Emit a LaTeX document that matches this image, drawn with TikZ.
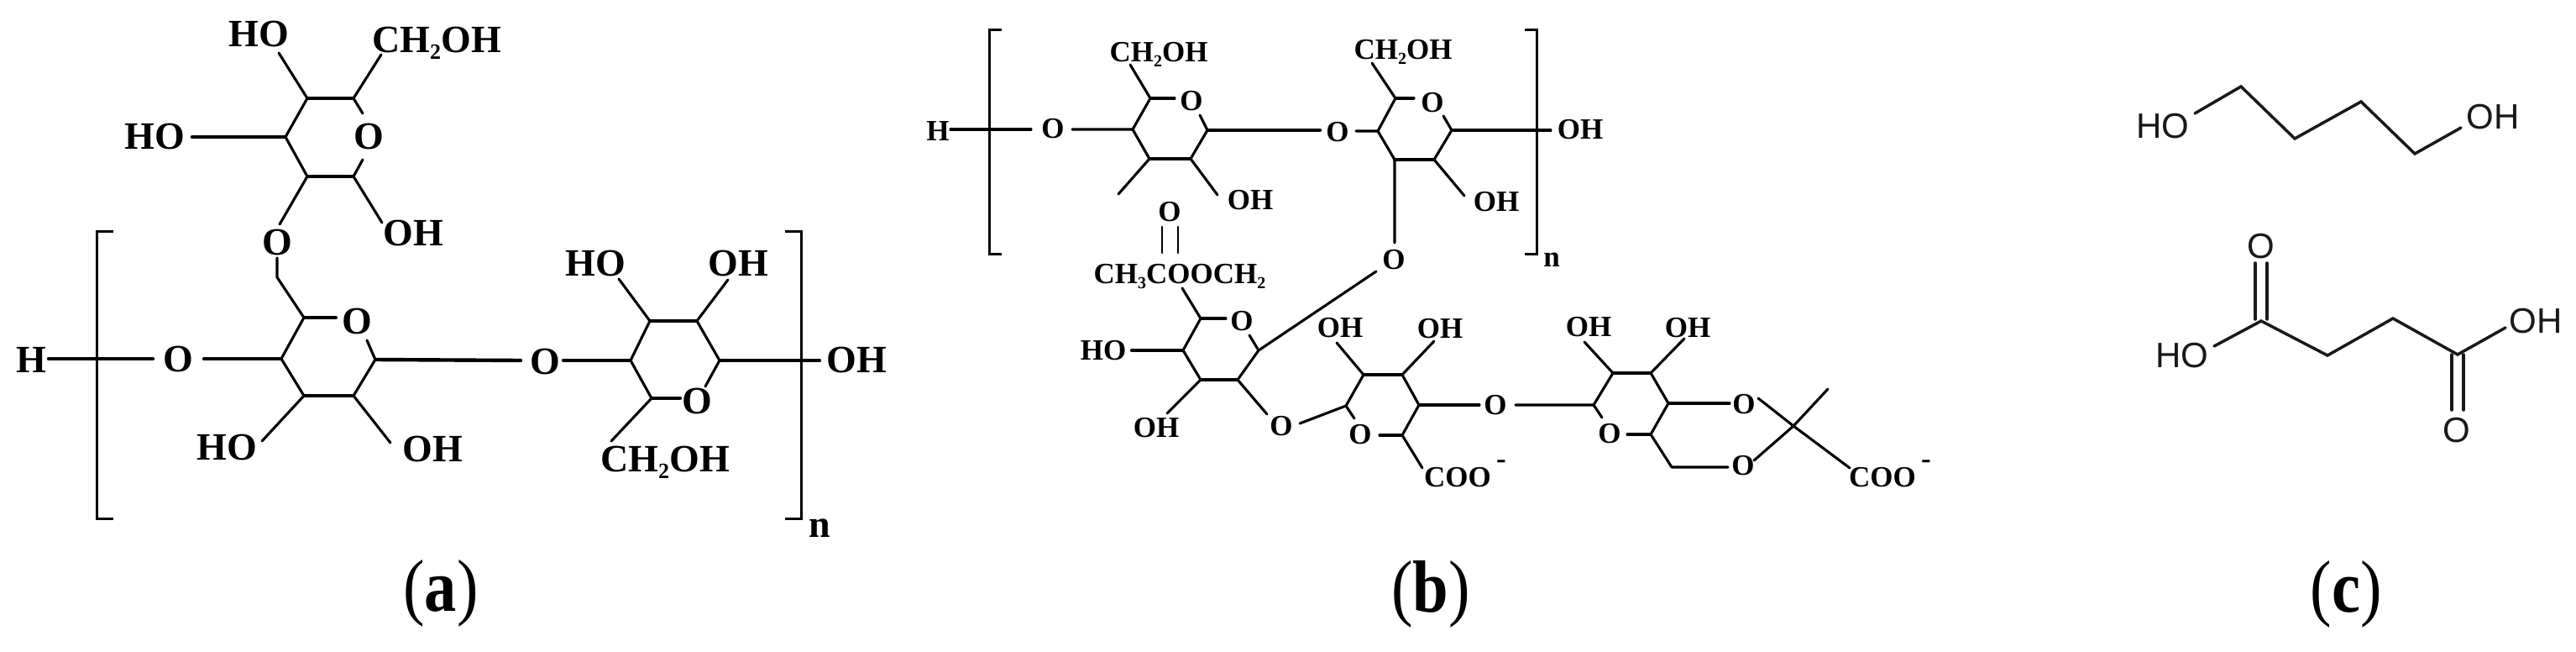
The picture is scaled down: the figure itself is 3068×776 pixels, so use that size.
\documentclass[tikz,border=0pt]{standalone}
\usepackage{fontspec}
\usepackage{graphicx}
\setmainfont{Liberation Serif}
\newfontfamily\chemsans{Liberation Sans}
\newcommand{\lsub}[3]{\raisebox{-#2}{\fontsize{#1}{#1}\selectfont #3}}
\tikzset{
  bond/.style={line width=3.1pt,line cap=round,line join=round,black},
  bondw/.style={line width=4.4pt,line cap=round,line join=round,black},
  brk/.style={line width=3pt,line cap=butt,line join=miter,black},
  thin bond/.style={line width=2.8pt,line cap=round,line join=round,black},
  skeleton/.style={line width=3.5pt,line cap=round,line join=miter,black!90},
  labA/.style={inner sep=0pt,font=\fontsize{46}{48}\selectfont\bfseries,text height=30pt,text depth=0pt},
  labB/.style={inner sep=0pt,font=\fontsize{35}{37}\selectfont\bfseries,text height=23pt,text depth=0pt},
  labC/.style={inner sep=0pt,font=\fontsize{42}{44}\selectfont\chemsans,text height=30pt,text depth=0pt,black!90},
  panelcap/.style={inner sep=0pt,font=\fontsize{88}{90}\selectfont,text height=60pt,text depth=18pt},
}
\begin{document}
\begin{tikzpicture}[x=1pt,y=-1pt]
\useasboundingbox (0,0) rectangle (3068,776);
% ---------- coordinates of panel (a)
\foreach \n/\x/\y in {
 A1/366/117,A2/421/117,A3/340/163,A4/366/210,A5/421/210,
 eCH/454/65,eHOt/332/63,eHOl/229/163,eOa/432/135,eOb/432/190,eOHa/455/265,eLa/333/267,eLb/330/307,La/330/330,
 B1/362/378,eB1/400/378,eB2/437/405,B3/447/428,B4/335/427,B5/362/471,B6/421/471,
 eHa/58/427,eHb/182/427,eOc/243/427,eHOb/312/525,eOHb/465/527,eOd/620/429,eOe/671/429,
 C1/751/429,C2/774/382,C3/830/382,C4/857/429,C5/776/474,eC5/810/474,eC4/840/460,
 eHOc/737/332,eOHc/867/333,eCHb/728/525,eOHr/976/429,
 brA1/135/275,brA2/115/275,brA3/115/617,brA4/135/617,
 brA5/935/275,brA6/954/275,brA7/954/617,brA8/935/617}
 {\coordinate (\n) at (\x,\y);}
% ---------- coordinates of panel (b)
\foreach \n/\x/\y in {
 brB1/1193/36,brB2/1178/36,brB3/1178/302,brB4/1193/302,
 brB5/1816/36,brB6/1830/36,brB7/1830/302,brB8/1816/302,
 eH/1132/154,eO1/1228/154,eO2/1277/154,
 D1/1349/154,D2/1370/117,eD2/1399/117,eD3/1429/137,D4/1438/155,D5/1418/189,D6/1369/189,
 eCH1/1346/77,stub/1332/231,eOH1/1450/232,eO3/1572/155,eO4/1615/156,
 E1/1641/156,E2/1662/117,eE2/1684/117,eE3/1719/138,E4/1729/155,E5/1708/190,E6/1661/190,
 eCH2/1634/75,eOH2/1744/233,eO5/1661/289,eOH3/1847/155,
 dbA1/1384/270,dbA2/1384/301,dbB1/1403/270,dbB2/1403/301,
 eAc/1408/343,F1/1430/379,eF1/1460/379,eF2/1488/399,F3/1499/417,F4/1474/452,F5/1430/452,F6/1409/417,
 eO6/1639/323,eHO1/1348/417,eOH4/1390/492,eO7/1509/493,eO8/1548/504,
 G1/1603/483,G2/1624/446,G3/1670/446,G4/1690/482,G5/1670/518,eG5/1643/518,eG1/1613/498,
 eOH5/1592/408,eOH6/1708/406,eCOOa/1694/557,eO9/1762/482,eO10/1805/482,
 I1/1898/482,I2/1921/444,I3/1966/444,I4/1987/480,I5/1966/517,eI5/1938/517,eI1/1908/497,
 eOH7/1887/407,eOH8/2006/403,eO11/2060/480,I6/1991/556,eO12/2058/556,
 J0/2136/507,eJa/2094/474,eJb/2203/557,eJc/2177/463,eJd/2089/548}
 {\coordinate (\n) at (\x,\y);}
% ---------- coordinates of panel (c)
\foreach \n/\x/\y in {
 K1/2614/135,K2/2669/103,K3/2733/165,K4/2812/121,K5/2876/183,K6/2931/152,
 M1/2637/412,M2/2693/382,M3/2772/423,M4/2850/379,M5/2927/422,M6/2984/390,
 dcA1/2686/313,dcA2/2686/380,dcB1/2700/313,dcB2/2700/380,
 dcC1/2920/422,dcC2/2920/488,dcD1/2934/422,dcD2/2934/488}
 {\coordinate (\n) at (\x,\y);}
% ---------- labels of panel (a)
\node[labA] (aHO1) at (308,41) {HO};
\node[labA] (aCH1) at (520,48) {CH\lsub{26}{8pt}{2}OH};
\node[labA] (aHO2) at (184,162) {HO};
\node[labA] (aOr1) at (439,162) {O};
\node[labA] (aOH1) at (492,277) {OH};
\node[labA] (aOl) at (330,288) {O};
\node[labA] (aOH2) at (879,313) {OH};
\node[labA] (aHO3) at (709,313) {HO};
\node[labA] (aOr2) at (425,382) {O};
\node[labA] (aH) at (37,428) {H};
\node[labA] (aO1) at (212,427) {O};
\node[labA] (aO2) at (649,430) {O};
\node[labA] (aOr3) at (830,477) {O};
\node[labA] (aOH3) at (1020,428) {OH};
\node[labA] (aHO4) at (270,532) {HO};
\node[labA] (aOH4) at (515,534) {OH};
\node[labA] (aCH2) at (792,546) {CH\lsub{26}{8pt}{2}OH};
\node[labA] (an) at (976,624) {n};
\node[panelcap] (capa) at (525,706) {\scalebox{.87}[1]{(\textbf{a})}};
% ---------- bonds of panel (a)
\draw[bond] (eHOt)--(A1)--(A3)--(A4)--(eLa);
\draw[bondw] (A1)--(A2);
\draw[bond] (eCH)--(A2)--(eOa);
\draw[bond] (eOb)--(A5)--(eOHa);
\draw[bondw] (A4)--(A5);
\draw[bondw] (eHOl)--(A3);
\draw[bond] (eLb)--(La)--(B1)--(B4)--(B5)--(eHOb);
\draw[bondw] (B1)--(eB1);
\draw[bond] (eB2)--(B3)--(B6)--(eOHb);
\draw[bondw] (B5)--(B6);
\draw[bondw] (eHa)--(eHb);
\draw[bondw] (eOc)--(B4);
\draw[bondw] (B3)--(eOd);
\draw[bondw] (eOe)--(C1);
\draw[bond] (C1)--(C2)--(eHOc);
\draw[bondw] (C2)--(C3);
\draw[bond] (eOHc)--(C3)--(C4)--(eC4);
\draw[bond] (C1)--(C5)--(eCHb);
\draw[bondw] (C5)--(eC5);
\draw[bondw] (C4)--(eOHr);
\draw[brk] (brA1)--(brA2)--(brA3)--(brA4);
\draw[brk] (brA5)--(brA6)--(brA7)--(brA8);
% ---------- labels of panel (b)
\node[labB] (bCH1) at (1380,62) {CH\lsub{20}{6pt}{2}OH};
\node[labB] (bCH2) at (1671,59) {CH\lsub{20}{6pt}{2}OH};
\node[labB] (bH) at (1117,156) {H};
\node[labB] (bO1) at (1254,153) {O};
\node[labB] (bOr1) at (1419,120) {O};
\node[labB] (bO2) at (1593,157) {O};
\node[labB] (bOr2) at (1706,122) {O};
\node[labB] (bOH0) at (1882,154) {OH};
\node[labB] (bOH1) at (1489,238) {OH};
\node[labB] (bOH2) at (1782,240) {OH};
\node[labB] (bOc) at (1393,252) {O};
\node[labB] (bn) at (1848,306) {n};
\node[labB] (bO3) at (1660,309) {O};
\node[labB] (bAc) at (1405,326) {CH\lsub{20}{6pt}{3}COOCH\lsub{20}{6pt}{2}};
\node[labB] (bOr3) at (1479,382) {O};
\node[labB] (bHO1) at (1314,417) {HO};
\node[labB] (bOH3) at (1596,390) {OH};
\node[labB] (bOH4) at (1715,391) {OH};
\node[labB] (bOH5) at (1892,389) {OH};
\node[labB] (bOH6) at (2010,390) {OH};
\node[labB] (bO4) at (1781,482) {O};
\node[labB] (bO5) at (2077,481) {O};
\node[labB] (bOH7) at (1377,509) {OH};
\node[labB] (bO6) at (1526,507) {O};
\node[labB] (bOr4) at (1620,517) {O};
\node[labB] (bOr5) at (1917,516) {O};
\node[labB] (bO7) at (2076,554) {O};
\node[labB] (bC1) at (1736,568) {COO};
\node[labB] (bC2) at (2242,568) {COO};
\node[labB,text height=8pt] (bM1) at (1788,553) {-};
\node[labB,text height=8pt] (bM2) at (2294,553) {-};
\node[panelcap] (capb) at (1704,707) {\scalebox{.87}[1]{(\textbf{b})}};
% ---------- bonds of panel (b)
\draw[brk] (brB1)--(brB2)--(brB3)--(brB4);
\draw[brk] (brB5)--(brB6)--(brB7)--(brB8);
\draw[bond] (eH)--(eO1);
\draw[bond] (eO2)--(D1)--(D2)--(eCH1);
\draw[bond] (D2)--(eD2);
\draw[bond] (eD3)--(D4)--(D5)--(eOH1);
\draw[bondw] (D5)--(D6);
\draw[bond] (D1)--(D6)--(stub);
\draw[bondw] (D4)--(eO3);
\draw[bond] (eO4)--(E1)--(E2)--(eCH2);
\draw[bond] (E2)--(eE2);
\draw[bond] (eE3)--(E4)--(E5)--(eOH2);
\draw[bondw] (E5)--(E6);
\draw[bond] (E1)--(E6)--(eO5);
\draw[bond] (E4)--(eOH3);
\draw[thin bond] (dbA1)--(dbA2);
\draw[thin bond] (dbB1)--(dbB2);
\draw[bond] (eAc)--(F1)--(F6)--(F5)--(eOH4);
\draw[bond] (F1)--(eF1);
\draw[bond] (eF2)--(F3)--(F4)--(eO7);
\draw[bondw] (F4)--(F5);
\draw[bond] (F3)--(eO6);
\draw[bondw] (eHO1)--(F6);
\draw[bond] (eO8)--(G1)--(G2)--(eOH5);
\draw[bond] (G1)--(eG1);
\draw[bondw] (G2)--(G3);
\draw[bond] (eOH6)--(G3)--(G4)--(G5)--(eCOOa);
\draw[bond] (G5)--(eG5);
\draw[bond] (G4)--(eO9);
\draw[bond] (eO10)--(I1)--(I2)--(eOH7);
\draw[bond] (I1)--(eI1);
\draw[bondw] (I2)--(I3);
\draw[bond] (eOH8)--(I3)--(I4)--(I5)--(I6)--(eO12);
\draw[bond] (I5)--(eI5);
\draw[bond] (I4)--(eO11);
\draw[bond] (eJa)--(J0)--(eJb);
\draw[bond] (eJc)--(J0)--(eJd);
% ---------- panel (c)
\node[labC] (cHO) at (2576,149) {HO};
\node[labC] (cOH) at (2969,138) {OH};
\node[labC] (cO1) at (2693,292) {O};
\node[labC] (cHO2) at (2599,422) {HO};
\node[labC] (cOH2) at (3020,381) {OH};
\node[labC] (cO2) at (2926,511) {O};
\node[panelcap] (capc) at (2794,707) {\scalebox{.87}[1]{(\textbf{c})}};
\draw[skeleton] (K1)--(K2)--(K3)--(K4)--(K5)--(K6);
\draw[skeleton] (M1)--(M2)--(M3)--(M4)--(M5)--(M6);
\draw[skeleton] (dcA1)--(dcA2);
\draw[skeleton] (dcB1)--(dcB2);
\draw[skeleton] (dcC1)--(dcC2);
\draw[skeleton] (dcD1)--(dcD2);
\end{tikzpicture}
\end{document}
